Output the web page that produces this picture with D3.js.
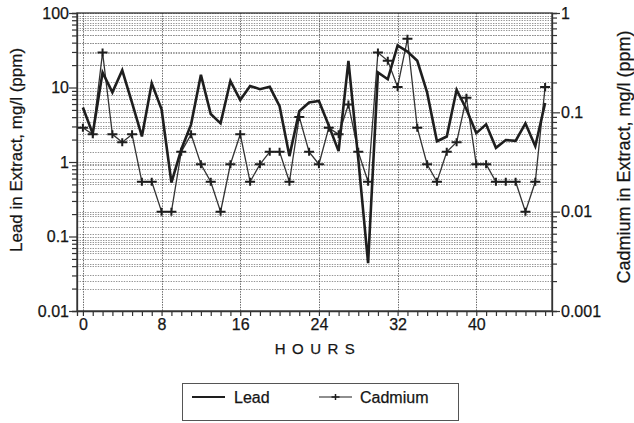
<!DOCTYPE html>
<html>
<head>
<meta charset="utf-8">
<script src="https://cdn.jsdelivr.net/npm/d3@7"></script>
<style>
  body { margin: 0; background: #fff; }
  text { font-family: "Liberation Sans", Arial, Helvetica, sans-serif; fill: #151515; stroke: #151515; stroke-width: 0.25px; }
</style>
</head>
<body>
<svg id="chart" width="634" height="423"></svg>
<script>
// Hourly extract concentrations (mg/l)
const hours = [0,1,2,3,4,5,6,7,8,9,10,11,12,13,14,15,16,17,18,19,20,21,22,23,
               24,25,26,27,28,29,30,31,32,33,34,35,36,37,38,39,40,41,42,43,44,45,46,47];
const lead = [5.4,2.4,15.9,8.6,17,6.2,2.2,11.4,5.1,0.53,1.47,3.2,14.8,4.4,3.3,12.2,
              6.8,10.5,9.5,10.2,5.6,1.2,4.8,6.3,6.6,3.1,1.4,22.8,1.1,0.044,15.9,12.9,
              36.7,30.3,22.8,8.6,1.9,2.2,9.3,5.1,2.44,3.2,1.55,1.97,1.92,3.3,1.63,6.2];
const cadmium = [0.07,0.06,0.4,0.06,0.05,0.06,0.02,0.02,0.01,0.01,0.04,0.06,0.03,0.02,0.01,0.03,
                 0.06,0.02,0.03,0.04,0.04,0.02,0.09,0.04,0.03,0.07,0.06,0.12,0.04,0.02,0.4,0.33,
                 0.18,0.55,0.07,0.03,0.02,0.04,0.05,0.14,0.03,0.03,0.02,0.02,0.02,0.01,0.02,0.18];

const hourLabels = [0,8,16,24,32,40];
const leadDecades = [0.01,0.1,1,10,100];
const cadDecades = [0.001,0.01,0.1,1];
const leadLabels = ["0.01","0.1","1","10","100"];
const cadLabels = ["0.001","0.01","0.1","1"];

const plotL = 77, plotR = 552, plotT = 13, plotB = 311;
const svg = d3.select("#chart");

const x = d3.scaleLinear().domain([-0.6, 47.7]).range([plotL, plotR]);
const yL = d3.scaleLog().domain([0.01, 100]).range([plotB, plotT]);
const yR = d3.scaleLog().domain([0.001, 1]).range([plotB, plotT]);

// minor log ticks (1..9 per decade)
function logTicks(decades) {
  const out = [];
  decades.forEach((d, i) => {
    if (i === decades.length - 1) { out.push(d); return; }
    for (let k = 1; k <= 9; k++) out.push(+(d * k).toPrecision(3));
  });
  return out;
}
const leadTicks = logTicks(leadDecades);
const cadTicks = logTicks(cadDecades);

// grid
const grid = svg.append("g").attr("stroke", "#8a8a8a").attr("stroke-width", 0.9)
  .attr("stroke-dasharray", "1.4,1.2").attr("fill", "none");
grid.selectAll("line.gl").data(leadTicks).join("line")
  .attr("x1", plotL).attr("x2", plotR)
  .attr("y1", d => Math.round(yL(d)) + 0.5).attr("y2", d => Math.round(yL(d)) + 0.5);
grid.selectAll("line.gr").data(cadTicks).join("line")
  .attr("x1", plotL).attr("x2", plotR)
  .attr("y1", d => Math.round(yR(d)) + 0.5).attr("y2", d => Math.round(yR(d)) + 0.5);
grid.selectAll("line.gv").data(hourLabels).join("line")
  .attr("y1", plotT).attr("y2", plotB)
  .attr("x1", d => Math.round(x(d)) + 0.5).attr("x2", d => Math.round(x(d)) + 0.5)
  .attr("stroke", "#555");

// frame
svg.append("rect").attr("x", plotL).attr("y", plotT).attr("width", plotR - plotL).attr("height", plotB - plotT)
  .attr("fill", "none").attr("stroke", "#333").attr("stroke-width", 1.3);

// axes
const isDecade = (d, arr) => arr.includes(d);
const axL = svg.append("g").attr("transform", `translate(${plotL},0)`)
  .call(d3.axisLeft(yL).tickValues(leadTicks).tickSize(5)
    .tickFormat(d => { const i = leadDecades.indexOf(d); return i >= 0 ? leadLabels[i] : ""; }));
axL.selectAll(".tick line").attr("x2", d => isDecade(d, leadDecades) ? -8 : -5);
const axR = svg.append("g").attr("transform", `translate(${plotR},0)`)
  .call(d3.axisRight(yR).tickValues(cadTicks).tickSize(5)
    .tickFormat(d => { const i = cadDecades.indexOf(d); return i >= 0 ? cadLabels[i] : ""; }));
axR.selectAll(".tick line").attr("x2", d => isDecade(d, cadDecades) ? 8 : 5);
const axB = svg.append("g").attr("transform", `translate(0,${plotB})`)
  .call(d3.axisBottom(x).tickValues(hours).tickSize(5)
    .tickFormat(d => hourLabels.includes(d) ? String(d) : ""));

[axL, axR, axB].forEach(a => {
  a.select(".domain").attr("stroke", "#333").attr("stroke-width", 1.3);
  a.selectAll(".tick line").attr("stroke", "#333").attr("stroke-width", 1.2);
  a.selectAll(".tick text").style("font-size", "16px").attr("fill", "#151515");
});
axL.selectAll(".tick text").attr("x", -8);
axR.selectAll(".tick text").attr("x", 9);
axB.selectAll(".tick text").attr("y", 8);

// axis titles
svg.append("text").attr("transform", "translate(22,150) rotate(-90)")
  .attr("text-anchor", "middle").style("font-size", "17px").text("Lead in Extract, mg/l (ppm)");
svg.append("text").attr("transform", "translate(630,157) rotate(-90)")
  .attr("text-anchor", "middle").style("font-size", "18px").text("Cadmium in Extract, mg/l (ppm)");
svg.append("text").attr("x", 318).attr("y", 354).attr("text-anchor", "middle")
  .style("font-size", "15px").style("letter-spacing", "6.5px").text("HOURS");

// series
const leadLine = d3.line().x((d, i) => x(hours[i])).y(d => yL(d));
const cadLine = d3.line().x((d, i) => x(hours[i])).y(d => yR(d));
svg.append("path").datum(cadmium).attr("d", cadLine)
  .attr("fill", "none").attr("stroke", "#333").attr("stroke-width", 1.3);
svg.append("path").datum(lead).attr("d", leadLine)
  .attr("fill", "none").attr("stroke", "#1e1e1e").attr("stroke-width", 2.6).attr("stroke-linejoin", "miter");

const plus = "M-5,0H5M0,-4V4";
svg.append("g").selectAll("path").data(cadmium).join("path")
  .attr("transform", (d, i) => `translate(${x(hours[i])},${yR(d)})`)
  .attr("d", plus).attr("stroke", "#1e1e1e").attr("stroke-width", 2).attr("fill", "none");

// legend
const lg = svg.append("g");
lg.append("rect").attr("x", 182.5).attr("y", 383.5).attr("width", 276).attr("height", 37)
  .attr("fill", "#fff").attr("stroke", "#555").attr("stroke-width", 1);
lg.append("line").attr("x1", 192).attr("x2", 225).attr("y1", 397).attr("y2", 397)
  .attr("stroke", "#1e1e1e").attr("stroke-width", 2);
lg.append("text").attr("x", 234).attr("y", 403).style("font-size", "16px").text("Lead");
lg.append("line").attr("x1", 319).attr("x2", 352).attr("y1", 397).attr("y2", 397)
  .attr("stroke", "#1e1e1e").attr("stroke-width", 1.2);
lg.append("path").attr("transform", "translate(335.5,397)").attr("d", "M-4,0H4M0,-3V3")
  .attr("stroke", "#1e1e1e").attr("stroke-width", 1.5);
lg.append("text").attr("x", 360).attr("y", 403).style("font-size", "16px").text("Cadmium");
</script>
</body>
</html>
